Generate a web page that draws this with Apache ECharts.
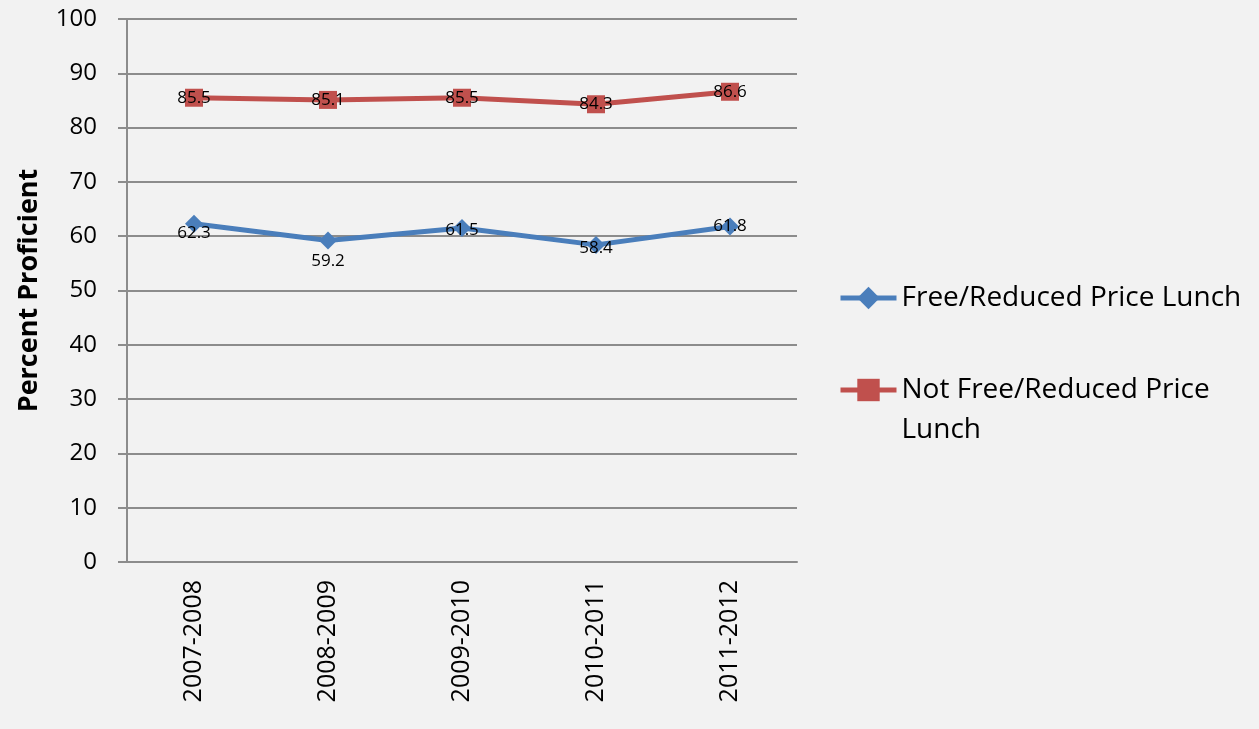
<!DOCTYPE html>
<html>
<head>
<meta charset="utf-8">
<script src="https://cdn.jsdelivr.net/npm/echarts@6/dist/echarts.min.js"></script>
<style>
  html, body { margin: 0; padding: 0; background: #f2f2f2; }
  #chart { width: 1259px; height: 729px; }
</style>
</head>
<body>
<div id="chart"></div>
<script>
const years = ['2007-2008', '2008-2009', '2009-2010', '2010-2011', '2011-2012'];
const freeLunch = [62.3, 59.2, 61.5, 58.4, 61.8];
const notFreeLunch = [85.5, 85.1, 85.5, 84.3, 86.6];
const seriesNames = ['Free/Reduced Price Lunch', 'Not Free/Reduced Price Lunch'];

// label nudges like the original (Excel placed them a bit differently per point)
const blueOffsets = [[0, 9], [0, 21], [0, 2], [0, 3], [0, 0]];

const chart = echarts.init(document.getElementById('chart'));
const font = '"Open Sans", Lato, sans-serif';

const legendBase = {
  orient: 'vertical',
  left: 838,
  padding: 0,
  itemWidth: 56,
  itemHeight: 28,
  lineStyle: { width: 5 },
  textStyle: { fontFamily: font, fontSize: 28, color: '#000', lineHeight: 40 }
};

const option = {
  backgroundColor: '#f2f2f2',
  animation: false,
  grid: { left: 127, right: 462, top: 19, bottom: 167 },
  legend: [
    Object.assign({}, legendBase, {
      top: 278,
      data: [seriesNames[0]]
    }),
    Object.assign({}, legendBase, {
      top: 330,
      data: [seriesNames[1]],
      // blank first line keeps the marker level with the first text line
      formatter: () => '\nNot Free/Reduced Price\nLunch'
    })
  ],
  xAxis: {
    type: 'category',
    data: years,
    boundaryGap: true,
    axisLine: { lineStyle: { color: '#8c8c8c', width: 2 } },
    axisTick: { show: false },
    axisLabel: {
      rotate: 90,
      margin: 18,
      fontFamily: font,
      fontSize: 25,
      color: '#000'
    }
  },
  yAxis: {
    type: 'value',
    min: 0,
    max: 100,
    interval: 10,
    name: 'Percent Proficient',
    nameLocation: 'middle',
    nameGap: 84,
    nameTextStyle: { fontFamily: font, fontSize: 27, fontWeight: 'bold', color: '#000' },
    axisLine: { show: true, lineStyle: { color: '#8c8c8c', width: 2 } },
    axisTick: { show: true, length: 9, lineStyle: { color: '#8c8c8c', width: 2 } },
    axisLabel: { margin: 30, fontFamily: font, fontSize: 24, color: '#000' },
    splitLine: { lineStyle: { color: '#8c8c8c', width: 2 } }
  },
  series: [
    {
      name: seriesNames[0],
      type: 'line',
      data: freeLunch.map((v, i) => ({
        value: v,
        label: { offset: blueOffsets[i] }
      })),
      symbol: 'diamond',
      symbolSize: 18,
      color: '#4a7ebb',
      lineStyle: { width: 5, color: '#4a7ebb' },
      label: {
        show: true,
        position: 'inside',
        fontFamily: font,
        fontSize: 17,
        color: '#000'
      },
      z: 3
    },
    {
      name: seriesNames[1],
      type: 'line',
      data: notFreeLunch,
      symbol: 'rect',
      symbolSize: 18,
      color: '#c0504d',
      lineStyle: { width: 5, color: '#c0504d' },
      label: {
        show: true,
        position: 'inside',
        fontFamily: font,
        fontSize: 17,
        color: '#000'
      },
      z: 3
    }
  ]
};

chart.setOption(option);
</script>
</body>
</html>
